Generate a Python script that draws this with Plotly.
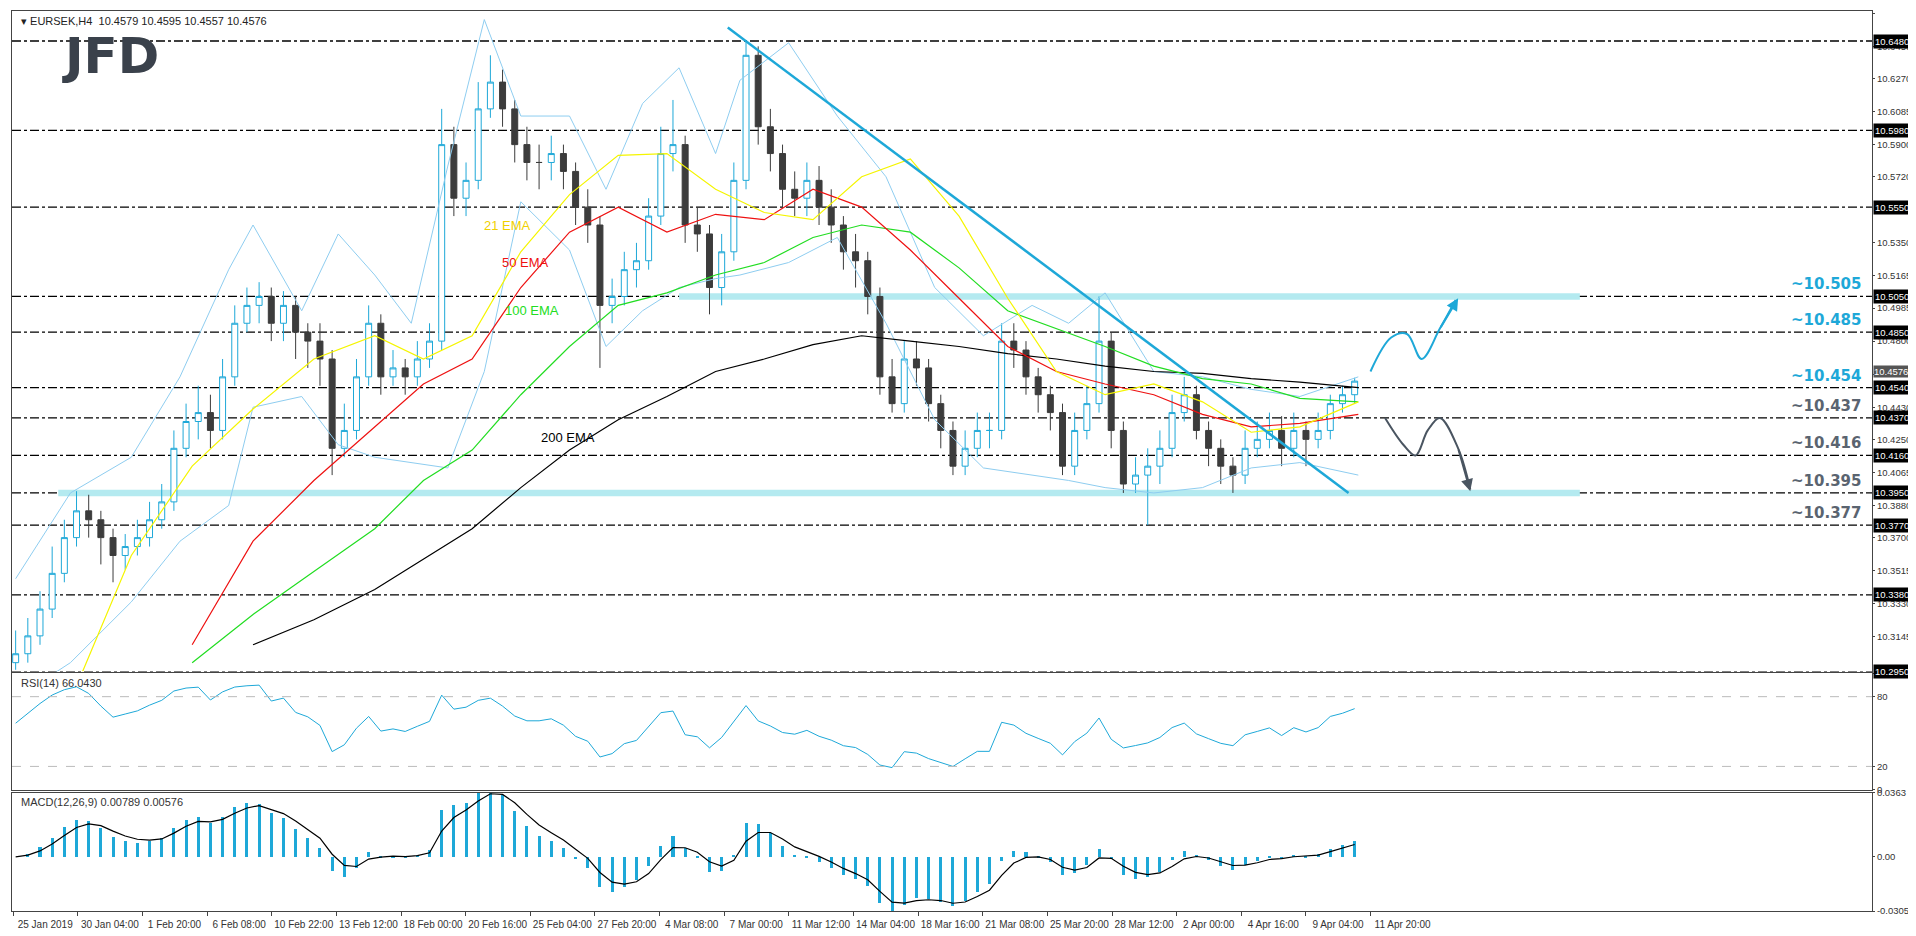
import numpy as np
import plotly.graph_objects as go
from plotly.subplots import make_subplots

# ---------------- data ----------------
close = [10.305,10.315,10.33,10.35,10.37,10.385,10.38,10.37,10.36,10.365,10.37,10.38,10.39,10.42,10.435,10.44,10.43,10.46,10.49,10.50,
         10.505,10.49,10.50,10.485,10.48,10.47,10.42,10.43,10.46,10.49,10.46,10.465,10.46,10.47,10.48,10.59,10.56,10.57,10.61,10.625,
         10.61,10.59,10.58,10.58,10.585,10.575,10.555,10.545,10.50,10.505,10.52,10.525,10.55,10.585,10.59,10.545,10.54,10.51,10.53,10.57,
         10.64,10.60,10.585,10.565,10.56,10.57,10.555,10.545,10.53,10.525,10.505,10.46,10.445,10.47,10.465,10.445,10.43,10.41,10.42,10.43,
         10.43,10.48,10.475,10.46,10.45,10.44,10.41,10.43,10.445,10.48,10.43,10.40,10.405,10.41,10.42,10.44,10.45,10.43,10.42,10.41,
         10.405,10.42,10.425,10.43,10.42,10.43,10.425,10.43,10.445,10.45,10.4576]
high = [10.318,10.325,10.34,10.365,10.38,10.396,10.394,10.385,10.375,10.372,10.38,10.39,10.40,10.43,10.445,10.455,10.45,10.47,10.50,10.51,
        10.513,10.51,10.508,10.505,10.49,10.49,10.475,10.445,10.47,10.50,10.495,10.475,10.47,10.48,10.49,10.61,10.60,10.58,10.625,10.64,
        10.632,10.615,10.60,10.59,10.595,10.59,10.58,10.565,10.55,10.515,10.53,10.535,10.56,10.60,10.615,10.595,10.555,10.545,10.54,10.58,
        10.648,10.645,10.61,10.59,10.575,10.58,10.578,10.565,10.55,10.54,10.53,10.51,10.47,10.48,10.48,10.47,10.45,10.435,10.43,10.44,
        10.44,10.49,10.49,10.48,10.465,10.455,10.445,10.44,10.455,10.505,10.485,10.435,10.415,10.42,10.43,10.45,10.46,10.455,10.435,10.425,
        10.415,10.43,10.435,10.44,10.438,10.44,10.435,10.44,10.45,10.455,10.4595]
low = [10.296,10.30,10.31,10.325,10.345,10.365,10.37,10.355,10.345,10.352,10.36,10.365,10.375,10.385,10.415,10.425,10.42,10.425,10.455,10.485,
       10.49,10.48,10.48,10.47,10.465,10.455,10.405,10.415,10.425,10.455,10.45,10.455,10.45,10.455,10.465,10.475,10.55,10.55,10.565,10.605,
       10.60,10.58,10.57,10.565,10.57,10.565,10.545,10.535,10.465,10.49,10.50,10.51,10.52,10.545,10.575,10.535,10.53,10.495,10.50,10.525,
       10.565,10.59,10.575,10.555,10.55,10.55,10.545,10.535,10.52,10.51,10.495,10.45,10.44,10.44,10.455,10.435,10.42,10.405,10.405,10.415,
       10.42,10.425,10.465,10.45,10.44,10.43,10.405,10.405,10.425,10.44,10.42,10.395,10.395,10.377,10.40,10.415,10.435,10.425,10.41,10.40,
       10.395,10.40,10.415,10.42,10.41,10.415,10.41,10.42,10.425,10.44,10.445]
first_open = 10.300

# indicator lines, sampled along the chart (x in candle units)
ema_x = [5.5, 9.5, 14.5, 19.5, 24.5, 29.5, 33.5, 37.5, 41.5, 45.5, 49.5, 53.5, 57.5, 61.5, 65.5, 69.5, 73.5, 77.5, 81.5, 85.5, 89.5, 93.5, 97.5, 101.5, 105.5, 110.3]
ema21 = [10.295,10.36,10.41,10.442,10.47,10.483,10.47,10.483,10.53,10.562,10.584,10.585,10.565,10.552,10.548,10.572,10.582,10.55,10.504,10.463,10.45,10.456,10.446,10.429,10.432,10.446]
ema50 = [None,None,10.31,10.368,10.402,10.432,10.456,10.47,10.51,10.541,10.555,10.541,10.551,10.548,10.565,10.555,10.531,10.504,10.477,10.463,10.456,10.45,10.439,10.432,10.434,10.439]
ema100 = [None,None,10.30,10.327,10.351,10.375,10.402,10.419,10.45,10.477,10.50,10.507,10.517,10.524,10.538,10.545,10.541,10.521,10.497,10.487,10.477,10.466,10.459,10.456,10.448,10.446]
ema200 = [None,None,None,10.31,10.324,10.341,10.358,10.375,10.398,10.419,10.436,10.449,10.463,10.47,10.478,10.483,10.48,10.477,10.473,10.47,10.466,10.463,10.462,10.459,10.457,10.454]
bb_x = [0,4.5,9.5,13.5,17.5,19.5,23.5,26.5,29.5,32.5,35.5,38.5,41.5,45.5,48.5,51.5,54.5,57.5,59.5,63.5,67.5,71.5,75.5,79.5,83.5,86.5,89.5,93.5,97.5,101.5,105.5,110.3]
bb_up = [10.347,10.395,10.415,10.46,10.52,10.545,10.497,10.54,10.517,10.49,10.578,10.66,10.606,10.606,10.565,10.613,10.633,10.585,10.626,10.647,10.606,10.572,10.51,10.483,10.50,10.49,10.507,10.463,10.46,10.453,10.449,10.46]
bb_lo = [10.28,10.30,10.334,10.368,10.388,10.443,10.449,10.422,10.415,10.412,10.409,10.463,10.558,10.531,10.477,10.497,10.51,10.515,10.517,10.524,10.538,10.49,10.436,10.409,10.405,10.402,10.398,10.395,10.398,10.409,10.412,10.405]

levels = [10.6480,10.5980,10.5550,10.5050,10.4850,10.4540,10.4370,10.4160,10.3950,10.3770,10.3380,10.2950]
level_texts = ["~10.505","~10.485","~10.454","~10.437","~10.416","~10.395","~10.377"]
level_text_prices = [10.505,10.485,10.454,10.437,10.416,10.395,10.377]
price_ticks = [10.6635,10.6450,10.6270,10.6085,10.5900,10.5720,10.5350,10.5165,10.4985,10.4800,10.4615,10.4430,10.4250,10.4065,10.3880,10.3700,10.3515,10.3330,10.3145]
date_labels = ["25 Jan 2019","30 Jan 04:00","1 Feb 20:00","6 Feb 08:00","10 Feb 22:00","13 Feb 12:00","18 Feb 00:00",
               "20 Feb 16:00","25 Feb 04:00","27 Feb 20:00","4 Mar 08:00","7 Mar 00:00","11 Mar 12:00","14 Mar 04:00",
               "18 Mar 16:00","21 Mar 08:00","25 Mar 20:00","28 Mar 12:00","2 Apr 00:00","4 Apr 16:00","9 Apr 04:00","11 Apr 20:00"]
trend_x = [58.5, 109.5]
trend_y = [10.6555, 10.395]
up_path_x = [111.3,113.0,114.3,115.5,117.0,118.3]
up_path_y = [10.463,10.482,10.484,10.470,10.487,10.503]
dn_path_x = [112.5,114.0,115.0,116.0,117.0,118.5,119.5]
dn_path_y = [10.437,10.422,10.416,10.430,10.437,10.420,10.397]

# ---------------- derived ----------------
c = np.array(close)
o = np.array([first_open] + close[:-1])
x = np.arange(len(close))

def ema(a, n):
    k = 2 / (n + 1); out = [a[0]]
    for v in a[1:]:
        out.append(out[-1] + k * (v - out[-1]))
    return np.array(out)

d = np.diff(c, prepend=c[0])
g = np.clip(d, 0, None); l = np.clip(-d, 0, None)
ag = [0.004]; al = [0.003]; n = 7
for gi, li in zip(g[1:], l[1:]):
    ag.append((ag[-1] * (n - 1) + gi) / n); al.append((al[-1] * (n - 1) + li) / n)
rsi = 100 - 100 / (1 + np.array(ag) / np.maximum(np.array(al), 1e-9))
macd = ema(c, 4) - ema(c, 9)
sig = ema(macd, 3)

fig = make_subplots(rows=3, cols=1, shared_xaxes=True)
teal = "#1EA8D8"
XR = [-0.3, 152.5]

for lv in levels:
    fig.add_shape(type="line", xref="x", yref="y", x0=XR[0], x1=XR[1], y0=lv, y1=lv,
                  line=dict(color="black", width=1.3, dash="dashdot"), layer="below")
fig.add_shape(type="rect", xref="x", yref="y", x0=54.5, x1=128.5, y0=10.5032, y1=10.5068,
              fillcolor="#B4EAF0", line_width=0, layer="below")
fig.add_shape(type="rect", xref="x", yref="y", x0=3.5, x1=128.5, y0=10.3932, y1=10.3968,
              fillcolor="#B4EAF0", line_width=0, layer="below")

fig.add_trace(go.Scatter(x=bb_x, y=bb_up, mode="lines", line=dict(color="#8ECDF0", width=1), hoverinfo="skip"), 1, 1)
fig.add_trace(go.Scatter(x=bb_x, y=bb_lo, mode="lines", line=dict(color="#8ECDF0", width=1), hoverinfo="skip"), 1, 1)
for ys, col in [(ema200, "black"), (ema100, "#22DD22"), (ema50, "#EE1111"), (ema21, "#F5F500")]:
    fig.add_trace(go.Scatter(x=ema_x, y=ys, mode="lines", line=dict(color=col, width=1.2), connectgaps=False), 1, 1)

fig.add_trace(go.Candlestick(x=x, open=o, high=high, low=low, close=c,
                             increasing=dict(line=dict(color=teal, width=1), fillcolor="white"),
                             decreasing=dict(line=dict(color="#3C3C3C", width=1), fillcolor="#3C3C3C"),
                             whiskerwidth=0), 1, 1)

fig.add_trace(go.Scatter(x=trend_x, y=trend_y, mode="lines", line=dict(color=teal, width=2.5)), 1, 1)
fig.add_trace(go.Scatter(x=up_path_x, y=up_path_y, mode="lines", line=dict(color=teal, width=2, shape="spline")), 1, 1)
fig.add_trace(go.Scatter(x=dn_path_x, y=dn_path_y, mode="lines", line=dict(color="#4A5561", width=2, shape="spline")), 1, 1)
fig.add_annotation(x=up_path_x[-1] + 0.2, y=up_path_y[-1] + 0.001, ax=up_path_x[-2], ay=up_path_y[-2], xref="x", yref="y",
                   axref="x", ayref="y", showarrow=True, arrowhead=2, arrowsize=1.2, arrowwidth=2, arrowcolor=teal, text="")
fig.add_annotation(x=dn_path_x[-1], y=dn_path_y[-1] - 0.001, ax=dn_path_x[-2], ay=dn_path_y[-2], xref="x", yref="y",
                   axref="x", ayref="y", showarrow=True, arrowhead=2, arrowsize=1.2, arrowwidth=2, arrowcolor="#4A5561", text="")

fig.add_trace(go.Scatter(x=x, y=rsi, mode="lines", line=dict(color=teal, width=1)), 2, 1)
for lv in [80, 20]:
    fig.add_shape(type="line", xref="x2", yref="y2", x0=XR[0], x1=XR[1], y0=lv, y1=lv,
                  line=dict(color="#BBBBBB", width=1, dash="dash"))
fig.add_trace(go.Bar(x=x, y=macd, marker_color=teal, width=0.25, marker_line_width=0), 3, 1)
fig.add_trace(go.Scatter(x=x, y=sig, mode="lines", line=dict(color="black", width=1.2)), 3, 1)

ema_lbls = [("21 EMA", 38.3, 10.545, "#F0D000"), ("50 EMA", 39.8, 10.524, "#EE1111"),
            ("100 EMA", 40.0, 10.497, "#22DD22"), ("200 EMA", 43.0, 10.426, "black")]
for t, xx, yy, col in ema_lbls:
    fig.add_annotation(x=xx, y=yy, text=t, showarrow=False, xanchor="left", xref="x", yref="y",
                       font=dict(family="Liberation Sans", size=13, color=col))
for t, yy in zip(level_texts, level_text_prices):
    col = teal if yy >= 10.454 else "#5A6470"
    fig.add_annotation(x=151.8, y=yy, text="<b>%s</b>" % t, showarrow=False, xanchor="right", yanchor="bottom",
                       xref="x", yref="y", yshift=1, font=dict(family="DejaVu Sans", size=15, color=col))
for lv in levels:
    fig.add_annotation(x=1, y=lv, xref="paper", yref="y", xanchor="left", xshift=1, text="%.4f" % lv, showarrow=False,
                       bgcolor="black", font=dict(family="Liberation Sans", size=9.5, color="white"), borderpad=1)
fig.add_annotation(x=1, y=10.4576, xref="paper", yref="y", xanchor="left", yanchor="bottom", xshift=1, yshift=3,
                   text="10.4576", showarrow=False, bgcolor="#555555",
                   font=dict(family="Liberation Sans", size=9.5, color="white"), borderpad=0)

fig.add_annotation(x=0.004, y=0.998, xref="paper", yref="paper", xanchor="left", yanchor="top", showarrow=False,
                   text="▾ EURSEK,H4  10.4579 10.4595 10.4557 10.4576", font=dict(family="Liberation Sans", size=11, color="#222"))
fig.add_annotation(x=0.026, y=0.985, xref="paper", yref="paper", xanchor="left", yanchor="top", showarrow=False,
                   text="<b>JFD</b>", font=dict(family="DejaVu Sans", size=50, color="#3A414B"))
fig.add_annotation(x=0.004, y=0.262, xref="paper", yref="paper", xanchor="left", yanchor="top", showarrow=False,
                   text="RSI(14) 66.0430", font=dict(family="Liberation Sans", size=11, color="#333"))
fig.add_annotation(x=0.004, y=0.130, xref="paper", yref="paper", xanchor="left", yanchor="top", showarrow=False,
                   text="MACD(12,26,9) 0.00789 0.00576", font=dict(family="Liberation Sans", size=11, color="#333"))

ax = dict(showline=True, mirror=True, linecolor="#444", linewidth=1, showgrid=False, zeroline=False, automargin=False)
fig.update_layout(width=1916, height=936, margin=dict(l=4, r=52, t=3, b=33), showlegend=False,
                  plot_bgcolor="white", paper_bgcolor="white", bargap=0,
                  font=dict(family="Liberation Sans", size=9.5, color="#333"))
fig.update_xaxes(**ax, range=XR, rangeslider_visible=False)
fig.update_xaxes(row=3, col=1, tickvals=[5.31 * k - 0.2 for k in range(len(date_labels))], ticktext=date_labels,
                 ticks="outside", ticklen=4, tickangle=0, ticklabelshift=32, tickfont=dict(size=10))
fig.update_xaxes(row=1, col=1, showticklabels=False)
fig.update_xaxes(row=2, col=1, showticklabels=False)
fig.update_layout(yaxis=dict(domain=[0.266, 1.0], range=[10.295, 10.6648], side="right", tickvals=price_ticks,
                             ticktext=["%.4f" % v for v in price_ticks], ticks="outside", ticklen=2, **ax),
                  yaxis2=dict(domain=[0.1348, 0.264], range=[0, 100], side="right", tickvals=[0, 20, 80, 100],
                              ticks="outside", ticklen=2, **ax),
                  yaxis3=dict(domain=[0.0, 0.1315], range=[-0.03052, 0.0363], side="right",
                              tickvals=[-0.03052, 0.0, 0.0363], ticktext=["-0.03052", "0.00", "0.0363"],
                              ticks="outside", ticklen=2, **ax))
fig.write_html("out.html")
